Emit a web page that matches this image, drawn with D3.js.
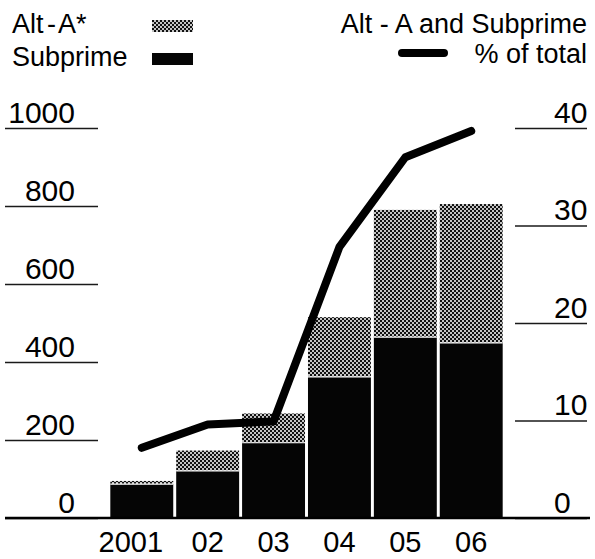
<!DOCTYPE html>
<html>
<head>
<meta charset="utf-8">
<script src="https://cdn.jsdelivr.net/npm/d3@7"></script>
<style>
  html, body { margin: 0; padding: 0; background: #fff; }
  svg { display: block; font-family: "Liberation Sans", Arial, sans-serif; }
  .axis .domain { display: none; }
</style>
</head>
<body>
<svg id="chart" width="595" height="559"></svg>
<script>
// Mortgage securities issuance, $bn, and share of total
const years = ["2001", "2002", "2003", "2004", "2005", "2006"];
const yearLabels = ["2001", "02", "03", "04", "05", "06"];
const subprime = [87, 121, 193, 362, 464, 449];
const altA = [8, 52, 75, 153, 326, 356];
const shareOfTotal = [7.2, 9.6, 9.9, 27.8, 37.0, 39.7];
const leftTicks = [0, 200, 400, 600, 800, 1000];
const rightTicks = [0, 10, 20, 30, 40];

const svg = d3.select("#chart");

// Stippled fill for the Alt-A segments
const defs = svg.append("defs");
const pat = defs.append("pattern")
  .attr("id", "stipple")
  .attr("patternUnits", "userSpaceOnUse")
  .attr("width", 4).attr("height", 4);
pat.append("rect").attr("width", 4).attr("height", 4).attr("fill", "#c4c4c4");
pat.append("rect").attr("x", 0).attr("y", 0).attr("width", 2).attr("height", 2).attr("fill", "#111");
pat.append("rect").attr("x", 2).attr("y", 2).attr("width", 2).attr("height", 2).attr("fill", "#111");

const x = d3.scaleBand().domain(years).range([109, 504]).paddingInner(0.045).paddingOuter(0.02);
const yL = d3.scaleLinear().domain([0, 1000]).range([518, 128]);
const yR = d3.scaleLinear().domain([0, 40]).range([518, 128]);

// Left axis: label sits above a short rule
const leftAxis = svg.append("g").attr("class", "axis")
  .attr("transform", "translate(98,0)")
  .call(d3.axisLeft(yL).tickValues(leftTicks).tickSize(93).tickFormat(d3.format("d")));
leftAxis.selectAll(".tick line").attr("stroke", "#1a1a1a").attr("stroke-width", 1.6);
leftAxis.selectAll(".tick text")
  .attr("x", -23).attr("y", -6).attr("dy", null)
  .attr("text-anchor", "end")
  .attr("font-size", 30).attr("fill", "#000");

// Right axis
const rightAxis = svg.append("g").attr("class", "axis")
  .attr("transform", "translate(515,0)")
  .call(d3.axisRight(yR).tickValues(rightTicks).tickSize(72).tickFormat(d3.format("d")));
rightAxis.selectAll(".tick line").attr("stroke", "#1a1a1a").attr("stroke-width", 1.6);
rightAxis.selectAll(".tick text")
  .attr("x", 39).attr("y", -6).attr("dy", null)
  .attr("text-anchor", "start")
  .attr("font-size", 30).attr("fill", "#000");

// Stacked bars
const bars = svg.append("g");
years.forEach((yr, i) => {
  const bx = x(yr), bw = x.bandwidth();
  bars.append("rect")
    .attr("x", bx).attr("width", bw)
    .attr("y", yL(subprime[i] + altA[i]))
    .attr("height", yL(subprime[i]) - yL(subprime[i] + altA[i]))
    .attr("fill", "url(#stipple)");
  bars.append("rect")
    .attr("x", bx).attr("width", bw)
    .attr("y", yL(subprime[i]))
    .attr("height", yL(0) - yL(subprime[i]))
    .attr("fill", "#050505");
  // thin light seam between the two segments
  bars.append("line")
    .attr("x1", bx).attr("x2", bx + bw)
    .attr("y1", yL(subprime[i])).attr("y2", yL(subprime[i]))
    .attr("stroke", "#fff").attr("stroke-width", 1.2);
});

// Baseline across the whole chart
svg.append("line")
  .attr("x1", 5).attr("x2", 590)
  .attr("y1", yL(0)).attr("y2", yL(0))
  .attr("stroke", "#000").attr("stroke-width", 2.4);

// Share-of-total line on the right scale
const line = d3.line()
  .x((d, i) => x(years[i]) + x.bandwidth() / 2)
  .y(d => yR(d));
svg.append("path")
  .datum(shareOfTotal)
  .attr("d", line)
  .attr("fill", "none")
  .attr("stroke", "#000")
  .attr("stroke-width", 8)
  .attr("stroke-linecap", "round")
  .attr("stroke-linejoin", "round");

// Year labels
const xAxis = svg.append("g").attr("class", "axis")
  .attr("transform", `translate(0,${yL(0)})`)
  .call(d3.axisBottom(x).tickSize(0).tickFormat((d, i) => yearLabels[i]));
xAxis.selectAll(".tick text")
  .attr("y", 34).attr("dy", null)
  .attr("font-size", 29).attr("fill", "#000")
  .attr("dx", (d, i) => i === 0 ? -11 : 0);

// Legend
const legend = svg.append("g").attr("font-size", 27).attr("fill", "#000");
legend.append("text").attr("x", 12).attr("y", 33).attr("word-spacing", "-4px").text("Alt - A*");
legend.append("text").attr("x", 12).attr("y", 66).text("Subprime");
legend.append("rect").attr("x", 152).attr("y", 20).attr("width", 41).attr("height", 12).attr("fill", "url(#stipple)");
legend.append("rect").attr("x", 152).attr("y", 53).attr("width", 41).attr("height", 12).attr("fill", "#050505");

legend.append("text").attr("x", 587).attr("y", 33).attr("text-anchor", "end")
  .text("Alt - A and Subprime");
legend.append("text").attr("x", 587).attr("y", 63).attr("text-anchor", "end").text("% of total");
legend.append("line")
  .attr("x1", 402).attr("x2", 444).attr("y1", 53).attr("y2", 53)
  .attr("stroke", "#000").attr("stroke-width", 8).attr("stroke-linecap", "round");
</script>
</body>
</html>
